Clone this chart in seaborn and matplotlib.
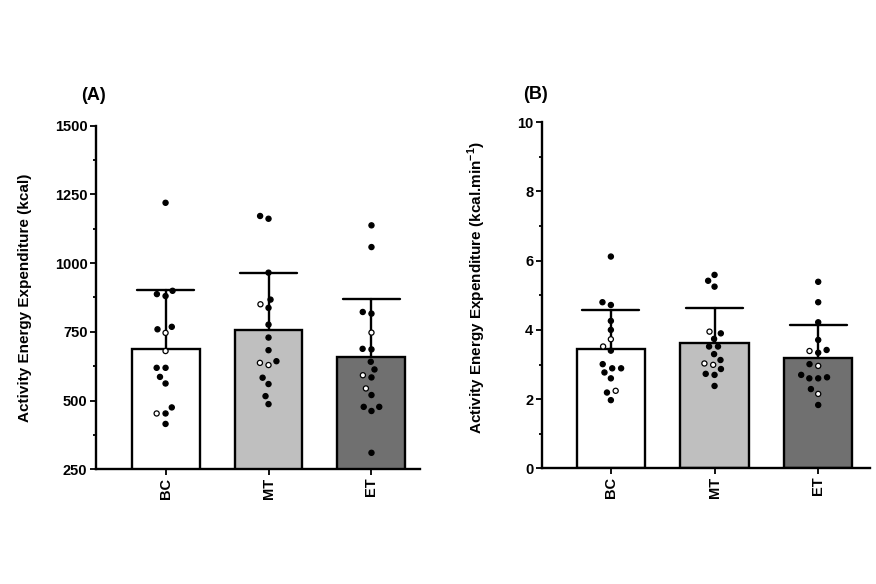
import numpy as np
import pandas as pd
import matplotlib
matplotlib.use("Agg")
import matplotlib.pyplot as plt
import seaborn as sns
from matplotlib.ticker import MultipleLocator

groups = ["BC", "MT", "ET"]
bar_colors = {"BC": "#ffffff", "MT": "#bfbfbf", "ET": "#707070"}

# Panel A: Activity Energy Expenditure (kcal)
a_bc = [1219, 899, 880, 887, 759, 768, 619, 619, 586, 562, 475, 453, 415]
a_bc_open = [746, 680, 453]
a_mt = [1171, 1161, 965, 867, 837, 776, 729, 683, 643, 583, 560, 516, 487]
a_mt_open = [850, 629, 637]
a_et = [1137, 1058, 822, 816, 686, 688, 641, 613, 584, 520, 477, 477, 462, 310]
a_et_open = [747, 592, 544]

# Panel B: Activity Energy Expenditure (kcal.min-1)
b_bc = [6.12, 4.72, 4.80, 4.26, 4.00, 3.40, 3.01, 2.89, 2.89, 2.77, 2.60, 2.19, 1.97]
b_bc_open = [3.73, 3.52, 2.24]
b_mt = [5.59, 5.42, 5.25, 3.90, 3.74, 3.52, 3.52, 3.30, 3.13, 2.87, 2.70, 2.73, 2.38]
b_mt_open = [3.95, 3.03, 2.99]
b_et = [5.39, 4.80, 4.22, 3.71, 3.42, 3.34, 3.01, 2.63, 2.60, 2.60, 2.70, 2.29, 1.83]
b_et_open = [3.39, 2.96, 2.15]

a_ticks = [250, 500, 750, 1000, 1250, 1500]
b_ticks = [0, 2, 4, 6, 8, 10]


def build(filled, opened):
    rows = []
    for g, f, o in zip(groups, filled, opened):
        rows += [(g, v, "filled") for v in f]
        rows += [(g, v, "open") for v in o]
    return pd.DataFrame(rows, columns=["group", "value", "kind"])


dfA = build([a_bc, a_mt, a_et], [a_bc_open, a_mt_open, a_et_open])
dfB = build([b_bc, b_mt, b_et], [b_bc_open, b_mt_open, b_et_open])

sns.set_theme(style="ticks")
plt.rcParams["font.family"] = ["Liberation Sans", "DejaVu Sans"]
plt.rcParams["font.weight"] = "bold"
plt.rcParams["axes.labelweight"] = "bold"
plt.rcParams["mathtext.fontset"] = "custom"
plt.rcParams["mathtext.rm"] = "Liberation Sans:bold"
plt.rcParams["mathtext.bf"] = "Liberation Sans:bold"
for k in ["text.color", "axes.labelcolor", "xtick.color", "ytick.color",
          "axes.edgecolor"]:
    plt.rcParams[k] = "black"

fig = plt.figure(figsize=(8.76, 5.84), dpi=100)
axA = fig.add_axes([0.1093, 0.1964, 0.370, 0.5887])
axB = fig.add_axes([0.6184, 0.1981, 0.3748, 0.5925])

LW = 1.7


def panel(ax, df, ticks, minor, xlim, ylabel, label_xy, title, title_x, title_y):
    sns.barplot(data=df, x="group", y="value", hue="group", order=groups,
                hue_order=groups, palette=bar_colors, errorbar="sd",
                capsize=0.55, width=0.66, edgecolor="black", linewidth=LW,
                err_kws={"color": "black", "linewidth": LW}, legend=False, ax=ax)
    for ln in ax.lines:
        ln.set_zorder(0.5)
    sns.swarmplot(data=df, x="group", y="value", hue="kind", order=groups,
                  hue_order=["filled", "open"],
                  palette={"filled": "black", "open": "white"},
                  size=5.2, edgecolor="black", linewidth=0.9, legend=False,
                  ax=ax, zorder=3, warn_thresh=1)
    ax.set_xlim(*xlim)
    ax.set_ylim(ticks[0], ticks[-1])
    ax.set_yticks(ticks)
    ax.yaxis.set_minor_locator(MultipleLocator(minor))
    sns.despine(ax=ax)
    for s in ["left", "bottom"]:
        ax.spines[s].set_linewidth(LW)
        ax.spines[s].set_color("black")
    ax.tick_params(axis="both", which="major", direction="out", length=4,
                   width=1.3, labelsize=10.5, pad=2, colors="black")
    ax.tick_params(axis="y", which="minor", direction="out", length=2.5,
                   width=1.3, colors="black")
    ax.tick_params(axis="x", labelrotation=90)
    ax.set_xlabel("")
    ax.set_ylabel(ylabel, fontsize=11, fontweight="bold")
    ax.yaxis.set_label_coords(*label_xy)
    ax.text(title_x, title_y, title, transform=ax.transAxes, fontsize=13,
            fontweight="bold", ha="left", va="center")


panel(axA, dfA, a_ticks, 125, (-0.678, 2.47),
      "Activity Energy Expenditure (kcal)", (-0.197, 0.5), "(A)", -0.045, 1.087)
panel(axB, dfB, b_ticks, 1, (-0.667, 2.50),
      r"Activity Energy Expenditure (kcal.min$^{\mathbf{-1}}$)", (-0.164, 0.521),
      "(B)", -0.058, 1.079)

# compute swarm layout once, then shrink dots to the reference size
fig.canvas.draw()
for ax in (axA, axB):
    for coll in ax.collections:
        if "draw" in coll.__dict__:
            del coll.draw
        coll.set_sizes([3.7 ** 2])

fig.savefig("out.png", dpi=100)
